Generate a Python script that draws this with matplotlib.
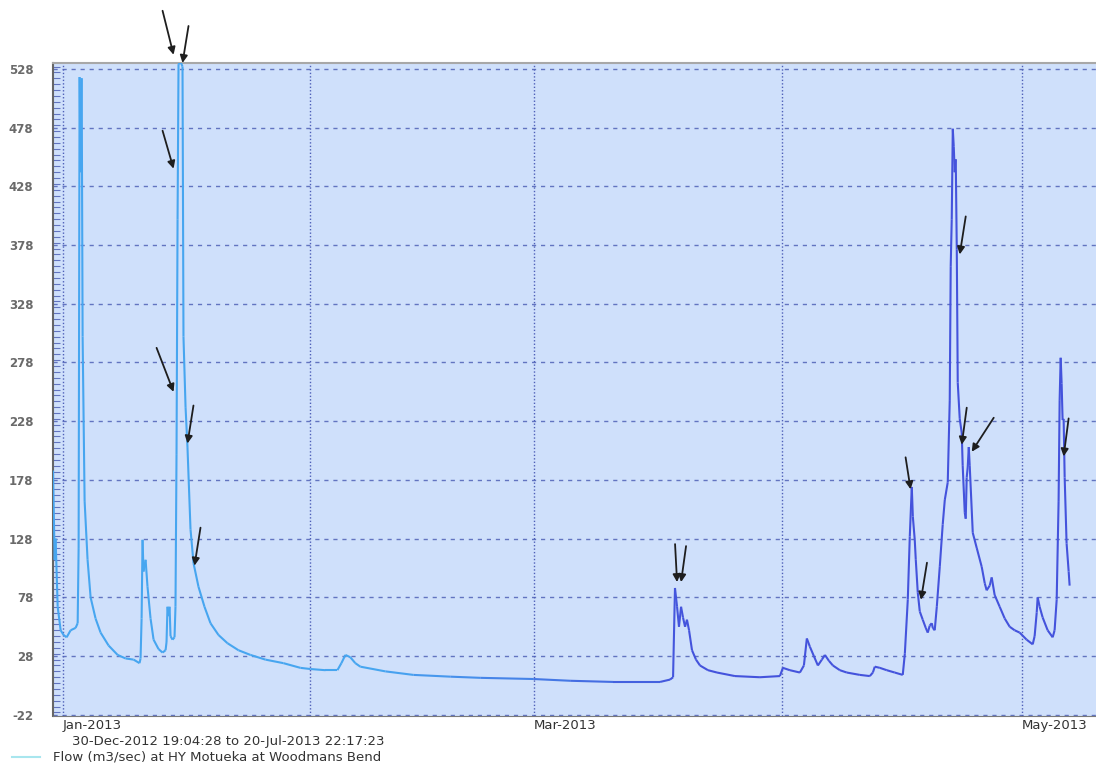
import numpy as np
import matplotlib
matplotlib.use("Agg")
import matplotlib.pyplot as plt
import matplotlib.dates as mdates
from matplotlib.collections import LineCollection
from matplotlib.ticker import MultipleLocator, FixedLocator
import datetime as dt

plt.rcParams["axes.unicode_minus"] = False

# flow series, days after 2013-01-01 00:00 and m3/sec
days = [-1.2, -1.0, -0.88, -0.62, -0.25, 0.12, 0.5, 1.0, 1.62, 1.88, 2.0, 2.12, 2.25,
        2.38, 2.5, 2.75, 3.12, 3.5, 4.12, 4.75, 5.75, 6.88, 7.88, 8.88, 9.62, 9.75,
        9.88, 10.0, 10.12, 10.38, 10.62, 11.0, 11.38, 12.0, 12.5, 12.88, 13.0, 13.12,
        13.25, 13.38, 13.5, 13.75, 14.0, 14.12, 14.25, 14.38, 14.5, 14.75, 15.0, 15.12,
        15.38, 15.62, 16.0, 16.38, 17.0, 17.75, 18.5, 19.5, 20.62, 22.0, 23.5, 25.38,
        27.62, 29.75, 31.0, 32.88, 34.38, 34.88, 35.38, 36.0, 36.62, 37.25, 40.38,
        43.88, 48.5, 52.25, 58.88, 63.5, 68.88, 74.75, 76.0, 76.38, 76.62, 76.88,
        77.12, 77.38, 77.62, 77.88, 78.12, 78.38, 78.75, 79.25, 79.75, 80.75, 81.88,
        84.12, 87.25, 89.75, 90.12, 91.0, 92.25, 92.75, 93.12, 93.5, 94.0, 94.5, 95.0,
        95.38, 95.88, 96.38, 97.25, 98.12, 99.75, 101.0, 101.38, 101.62, 102.25,
        103.12, 104.12, 105.12, 105.38, 105.75, 106.0, 106.25, 106.38, 106.62, 106.75,
        107.0, 107.25, 107.62, 108.0, 108.25, 108.5, 108.75, 108.88, 109.12, 109.38,
        109.75, 110.12, 110.38, 110.75, 111.0, 111.12, 111.25, 111.38, 111.5, 111.62,
        111.75, 111.88, 112.0, 112.25, 112.5, 112.62, 112.88, 113.0, 113.12, 113.25,
        113.38, 113.5, 113.88, 114.38, 115.0, 115.38, 115.62, 116.0, 116.25, 116.62,
        117.25, 117.88, 118.5, 119.12, 119.75, 120.62, 121.38, 121.62, 121.88, 122.0,
        122.25, 122.62, 123.25, 123.88, 124.12, 124.38, 124.62, 124.75, 124.88, 125.0,
        125.12, 125.25, 125.38, 125.62, 125.88, 126.0]
flow = [186, 110, 128, 70, 50, 46, 44, 50, 52, 56, 120, 521, 440,
        520, 300, 160, 110, 78, 60, 48, 37, 29, 26, 25, 22, 26,
        60, 127, 100, 110, 87, 60, 42, 34, 31, 33, 40, 70,
        62, 70, 45, 42, 44, 70, 200, 400, 532, 534, 530, 300,
        240, 206, 136, 107, 87, 70, 56, 46, 39, 33, 29, 25,
        22, 18, 17, 16, 16, 22, 29, 27, 22, 19, 15,
        12, 10.5, 9.5, 8.5, 7, 6, 6, 8, 10, 86, 70,
        53, 70, 61, 53, 59, 50, 33, 25, 20, 16, 14,
        11, 10, 11, 18, 16, 14, 20, 43, 36, 28, 20, 25,
        29, 24, 20, 16, 14, 12, 11, 14, 19, 18,
        16, 14, 12, 30, 76, 130, 172, 147, 127, 110,
        82, 66, 59, 52, 48, 54, 56, 52, 50, 70,
        104, 140, 161, 176, 246, 360, 400, 477, 462, 440,
        451, 374, 261, 230, 218, 190, 150, 145, 180, 189,
        206, 190, 133, 120, 104, 90, 84, 88, 95, 80,
        70, 60, 53, 50, 48, 42, 38, 45, 65, 78,
        70, 61, 50, 44, 50, 76, 160, 246, 282, 260,
        229, 230, 180, 124, 100, 88]

# arrows: tip (day, flow) and tail offset in pixels
arrow_tip_day = [13.88, 15.0, 13.88, 13.88, 15.62, 16.5, 76.88, 77.38, 106.1, 107.4,
                 112.25, 112.5, 113.75, 125.25]
arrow_tip_flow = [540, 533, 443, 253, 209, 105, 91, 91, 170, 76, 370, 208, 202, 198]
arrow_dx = [-11, 6, -11, -17, 6, 6, -2, 5, -5, 6, 6, 5, 22, 5]
arrow_dy = [44, 37, 38, 44, 38, 38, 38, 36, 32, 37, 38, 37, 34, 38]

yticks = [-22, 28, 78, 128, 178, 228, 278, 328, 378, 428, 478, 528]

base = dt.datetime(2013, 1, 1)
def todate(d):
    return base + dt.timedelta(days=d)

x = mdates.date2num([todate(d) for d in days])
y = np.array(flow, dtype=float)

fig = plt.figure(figsize=(10.96, 7.64), dpi=100)
ax = fig.add_axes([53/1096, 1-716/764, 1-53/1096, (716-63)/764])
ax.set_facecolor("#cfe0fb")

# grid
for v in yticks:
    ax.axhline(v, color="#6274c0", lw=1.0, ls=(0, (3, 3.5)), zorder=1)
months = [dt.datetime(2013, m, 1) for m in range(1, 6)]
for m in months:
    ax.axvline(mdates.date2num(m), color="#4e5fb8", lw=1.0, ls=(0, (1, 1.5)), zorder=1)

# line with colour fading from light to darker blue
pts = np.column_stack([x, y]).reshape(-1, 1, 2)
segs = np.concatenate([pts[:-1], pts[1:]], axis=1)
light = np.array(matplotlib.colors.to_rgb("#47a6f0"))
dark = np.array(matplotlib.colors.to_rgb("#4453dc"))
d0 = mdates.date2num(dt.datetime(2013, 2, 10))
d1 = mdates.date2num(dt.datetime(2013, 3, 20))
mid = (x[:-1] + x[1:]) / 2
t = np.clip((mid - d0) / (d1 - d0), 0, 1)[:, None]
cols = light * (1 - t) + dark * t
lc = LineCollection(segs, colors=cols, linewidths=1.5, zorder=3)
ax.add_collection(lc)

for td, tf, dx, dy in zip(arrow_tip_day, arrow_tip_flow, arrow_dx, arrow_dy):
    ax.annotate("", xy=(mdates.date2num(todate(td)), tf), xytext=(dx*0.72, dy*0.72),
                textcoords="offset points", annotation_clip=False,
                arrowprops=dict(arrowstyle="-|>", color="#1e1e1e", lw=1.3,
                                mutation_scale=11, shrinkA=0, shrinkB=0), zorder=5)

ax.set_xlim(mdates.date2num(dt.datetime(2012, 12, 30, 19, 4)),
            mdates.date2num(todate(129.3)))
ax.set_ylim(-23, 533)

ax.yaxis.set_major_locator(FixedLocator(yticks))
ax.yaxis.set_minor_locator(MultipleLocator(5))
ax.tick_params(axis="y", which="major", length=0, labelsize=8.5, labelcolor="#6a6a6a", pad=14)
ax.tick_params(axis="y", which="minor", direction="in", length=5, color="#6274c0", width=0.8)
for lab in ax.get_yticklabels():
    lab.set_fontweight("bold")

ax.xaxis.set_major_locator(FixedLocator(mdates.date2num(months)))
labs = ["Jan-2013", "", "Mar-2013", "", "May-2013"]
ax.set_xticklabels(labs)
ax.tick_params(axis="x", length=0, labelsize=9.5, labelcolor="#333333", pad=2)
for lab in ax.get_xticklabels():
    lab.set_horizontalalignment("left")

ax.spines["left"].set_color("#666666")
ax.spines["left"].set_linewidth(1.5)
ax.spines["bottom"].set_color("#7a7a7a")
ax.spines["top"].set_color("#a8a8a8")
ax.spines["top"].set_linewidth(1.5)
ax.spines["right"].set_visible(False)

fig.text(72/1096, 1-741/764, "30-Dec-2012 19:04:28 to 20-Jul-2013 22:17:23",
         fontsize=9.5, color="#333333", va="center")
fig.lines.append(matplotlib.lines.Line2D([12/1096, 40/1096], [1-757/764, 1-757/764],
                                         transform=fig.transFigure, color="#a8e6ee", lw=1.5))
fig.text(53/1096, 1-757/764, "Flow (m3/sec) at HY Motueka at Woodmans Bend",
         fontsize=9.5, color="#333333", va="center")

fig.savefig("out.png", dpi=100)
